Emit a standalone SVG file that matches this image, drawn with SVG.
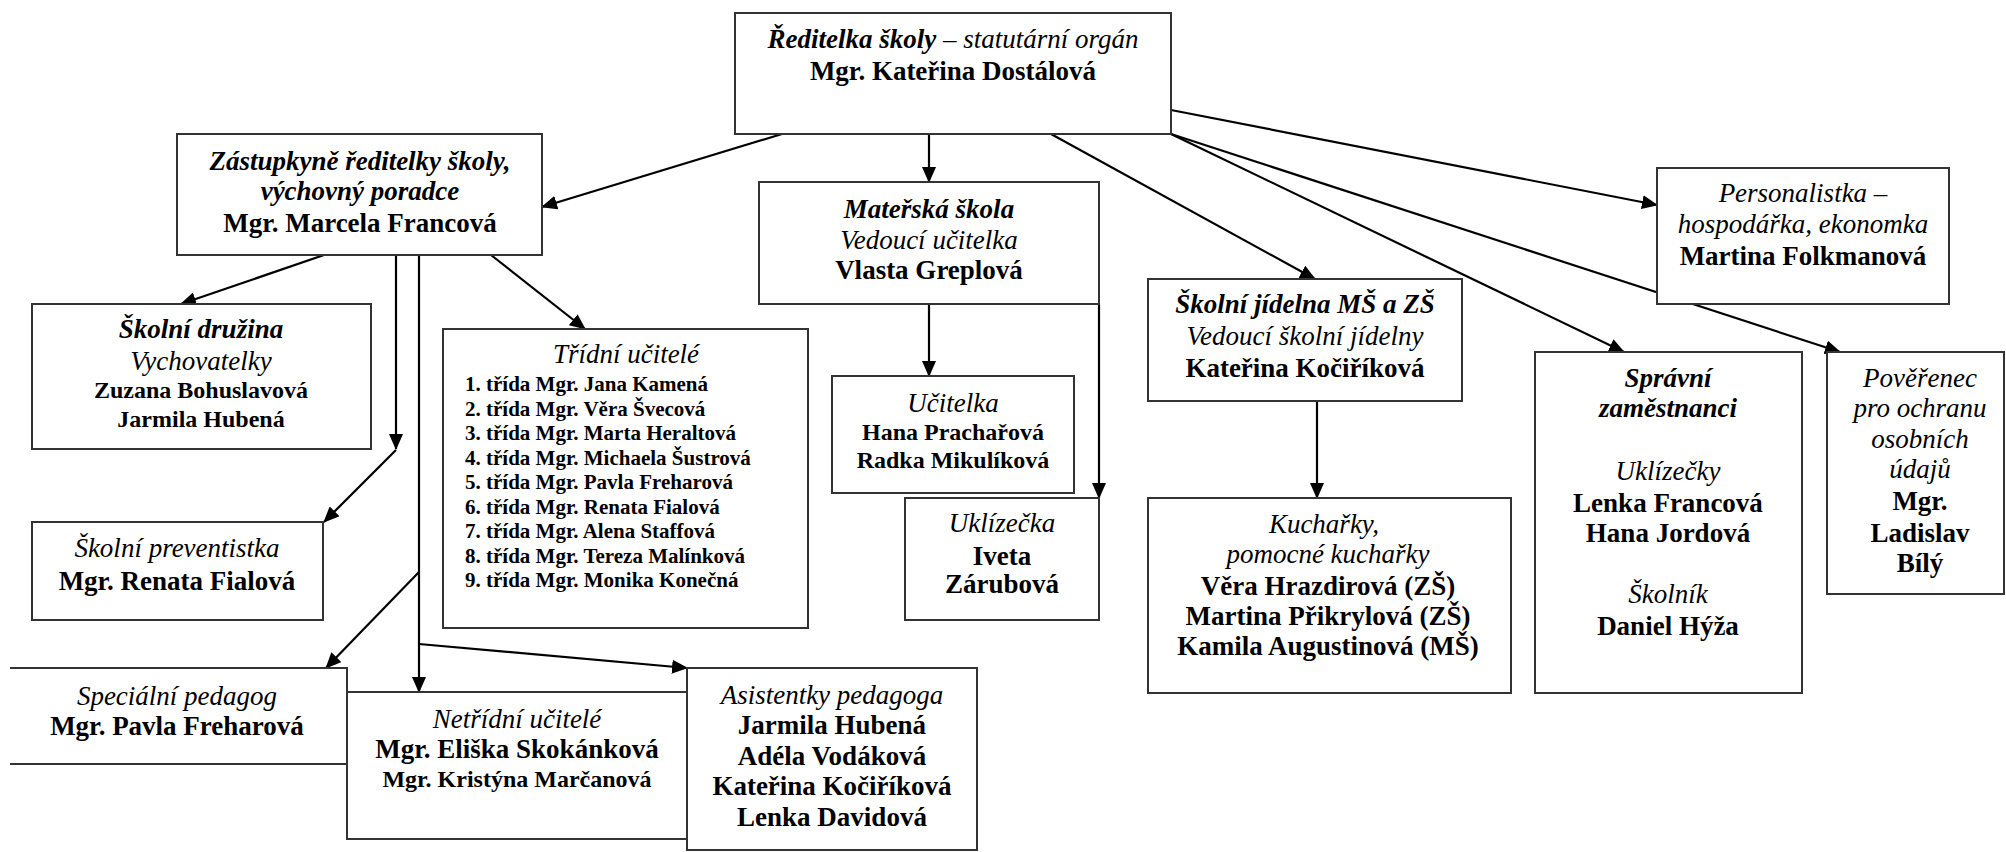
<svg xmlns="http://www.w3.org/2000/svg" width="2006" height="852" viewBox="0 0 2006 852">
<defs>
<marker id="ah" markerUnits="userSpaceOnUse" markerWidth="16" markerHeight="14" refX="15" refY="7" orient="auto">
<path d="M0,0 L16,7 L0,14 z" fill="#000"/>
</marker>
<style>
.box{fill:#fff;stroke:#333;stroke-width:2}
.c{stroke:#000;stroke-width:2.2;fill:none;marker-end:url(#ah)}
.ln{stroke:#000;stroke-width:2.2;fill:none}
text{font-family:"Liberation Serif","Times New Roman",serif;font-size:27px;fill:#000;text-anchor:middle}
.i{font-style:italic}
.bi{font-style:italic;font-weight:bold}
.b{font-weight:bold}
.s{font-size:24px}
.l{font-size:21px;font-weight:bold;text-anchor:start}
</style>
</defs>
<rect width="2006" height="852" fill="#fff"/>

<g id="connectors">
<line class="c" x1="782" y1="134" x2="542" y2="207"/>
<line class="c" x1="929" y1="134" x2="929" y2="182"/>
<line class="c" x1="1051" y1="134" x2="1315" y2="279"/>
<line class="c" x1="1171" y1="110" x2="1657" y2="205"/>
<line class="c" x1="1171" y1="134" x2="1624" y2="352"/>
<line class="c" x1="1171" y1="134" x2="1840" y2="352"/>
<line class="c" x1="324" y1="255" x2="181" y2="304"/>
<line class="c" x1="491" y1="255" x2="585" y2="329"/>
<line class="c" x1="396" y1="255" x2="396" y2="449"/>
<line class="c" x1="396" y1="450" x2="324" y2="522"/>
<line class="c" x1="419" y1="255" x2="419" y2="692"/>
<line class="c" x1="419" y1="572" x2="326" y2="668"/>
<line class="c" x1="419" y1="644" x2="687" y2="668"/>
<line class="c" x1="929" y1="304" x2="929" y2="376"/>
<line class="c" x1="1099" y1="304" x2="1099" y2="498"/>
<line class="c" x1="1317" y1="401" x2="1317" y2="498"/>
</g>

<g id="reditelka">
<rect class="box" x="735" y="13" width="436" height="121"/>
<text x="953" y="48" class="i"><tspan font-weight="bold">Ředitelka školy</tspan> – statutární orgán</text>
<text x="953" y="80" class="b">Mgr. Kateřina Dostálová</text>
</g>

<g id="zastupkyne">
<rect class="box" x="177" y="134" width="365" height="121"/>
<text x="360" y="170" class="bi">Zástupkyně ředitelky školy,</text>
<text x="360" y="200" class="bi">výchovný poradce</text>
<text x="360" y="232" class="b">Mgr. Marcela Francová</text>
</g>

<g id="materska">
<rect class="box" x="759" y="182" width="340" height="122"/>
<text x="929" y="218" class="bi">Mateřská škola</text>
<text x="929" y="249" class="i">Vedoucí učitelka</text>
<text x="929" y="279" class="b">Vlasta Greplová</text>
</g>

<g id="personalistka">
<rect class="box" x="1657" y="168" width="292" height="136"/>
<text x="1803" y="202" class="i">Personalistka –</text>
<text x="1803" y="233" class="i">hospodářka, ekonomka</text>
<text x="1803" y="265" class="b">Martina Folkmanová</text>
</g>

<g id="druzina">
<rect class="box" x="32" y="304" width="339" height="145"/>
<text x="201" y="338" class="bi">Školní družina</text>
<text x="201" y="370" class="i">Vychovatelky</text>
<text x="201" y="398" class="b s">Zuzana Bohuslavová</text>
<text x="201" y="427" class="b s">Jarmila Hubená</text>
</g>

<g id="tridni">
<rect class="box" x="443" y="329" width="365" height="299"/>
<text x="626" y="363" class="i">Třídní učitelé</text>
<text x="465" y="391" class="l">1. třída Mgr. Jana Kamená</text>
<text x="465" y="415.5" class="l">2. třída Mgr. Věra Švecová</text>
<text x="465" y="440" class="l">3. třída Mgr. Marta Heraltová</text>
<text x="465" y="464.5" class="l">4. třída Mgr. Michaela Šustrová</text>
<text x="465" y="489" class="l">5. třída Mgr. Pavla Freharová</text>
<text x="465" y="513.5" class="l">6. třída Mgr. Renata Fialová</text>
<text x="465" y="538" class="l">7. třída Mgr. Alena Staffová</text>
<text x="465" y="562.5" class="l">8. třída Mgr. Tereza Malínková</text>
<text x="465" y="587" class="l">9. třída Mgr. Monika Konečná</text>
</g>

<g id="ucitelka">
<rect class="box" x="832" y="376" width="242" height="117"/>
<text x="953" y="412" class="i">Učitelka</text>
<text x="953" y="440" class="b s">Hana Prachařová</text>
<text x="953" y="468" class="b s">Radka Mikulíková</text>
</g>

<g id="uklizecka">
<rect class="box" x="905" y="498" width="194" height="122"/>
<text x="1002" y="532" class="i">Uklízečka</text>
<text x="1002" y="565" class="b">Iveta</text>
<text x="1002" y="593" class="b">Zárubová</text>
</g>

<g id="jidelna">
<rect class="box" x="1148" y="279" width="314" height="122"/>
<text x="1305" y="313" class="bi">Školní jídelna MŠ a ZŠ</text>
<text x="1305" y="345" class="i">Vedoucí školní jídelny</text>
<text x="1305" y="377" class="b">Kateřina Kočiříková</text>
</g>

<g id="kucharky">
<rect class="box" x="1148" y="498" width="363" height="195"/>
<text x="1324" y="533" class="i">Kuchařky,</text>
<text x="1328" y="563" class="i">pomocné kuchařky</text>
<text x="1328" y="595" class="b">Věra Hrazdirová (ZŠ)</text>
<text x="1328" y="625" class="b">Martina Přikrylová (ZŠ)</text>
<text x="1328" y="655" class="b">Kamila Augustinová (MŠ)</text>
</g>

<g id="spravni">
<rect class="box" x="1535" y="352" width="267" height="341"/>
<text x="1668" y="387" class="bi">Správní</text>
<text x="1668" y="417" class="bi">zaměstnanci</text>
<text x="1668" y="480" class="i">Uklízečky</text>
<text x="1668" y="512" class="b">Lenka Francová</text>
<text x="1668" y="542" class="b">Hana Jordová</text>
<text x="1668" y="603" class="i">Školník</text>
<text x="1668" y="635" class="b">Daniel Hýža</text>
</g>

<g id="poverenec">
<rect class="box" x="1827" y="352" width="177" height="242"/>
<text x="1920" y="387" class="i">Pověřenec</text>
<text x="1920" y="417" class="i">pro ochranu</text>
<text x="1920" y="448" class="i">osobních</text>
<text x="1920" y="478" class="i">údajů</text>
<text x="1920" y="510" class="b">Mgr.</text>
<text x="1920" y="542" class="b">Ladislav</text>
<text x="1920" y="572" class="b">Bílý</text>
</g>

<g id="preventistka">
<rect class="box" x="32" y="522" width="291" height="98"/>
<text x="177" y="557" class="i">Školní preventistka</text>
<text x="177" y="590" class="b">Mgr. Renata Fialová</text>
</g>

<g id="specialni">
<path class="box" d="M10,668 H347 V764 H10"/>
<text x="177" y="705" class="i">Speciální pedagog</text>
<text x="177" y="735" class="b">Mgr. Pavla Freharová</text>
</g>

<g id="netridni">
<rect class="box" x="347" y="692" width="340" height="147"/>
<text x="517" y="728" class="i">Netřídní učitelé</text>
<text x="517" y="758" class="b">Mgr. Eliška Skokánková</text>
<text x="517" y="787" class="b s">Mgr. Kristýna Marčanová</text>
</g>

<g id="asistentky">
<rect class="box" x="687" y="668" width="290" height="182"/>
<text x="832" y="704" class="i">Asistentky pedagoga</text>
<text x="832" y="734" class="b">Jarmila Hubená</text>
<text x="832" y="765" class="b">Adéla Vodáková</text>
<text x="832" y="795" class="b">Kateřina Kočiříková</text>
<text x="832" y="826" class="b">Lenka Davidová</text>
</g>
</svg>
